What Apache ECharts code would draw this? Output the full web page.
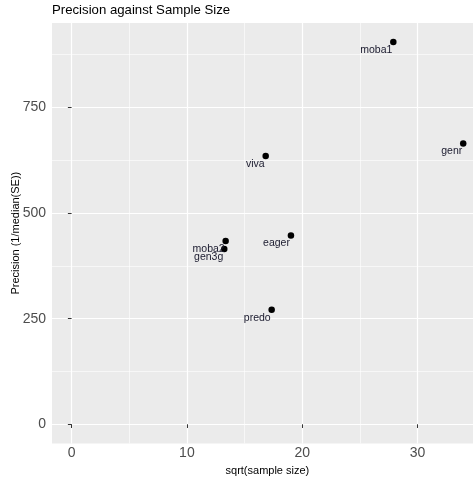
<!DOCTYPE html>
<html>
<head>
<meta charset="utf-8">
<script src="https://cdn.jsdelivr.net/npm/echarts@6/dist/echarts.min.js"></script>
<style>
  html, body { margin: 0; padding: 0; background: #ffffff; }
  #chart { width: 473px; height: 486px; }
</style>
</head>
<body>
<div id="chart"></div>
<script>
// Study cohorts: square root of sample size vs precision (1 / median SE)
const studies = ['moba1', 'genr', 'viva', 'eager', 'moba2', 'gen3g', 'predo'];
const sqrtSampleSize = [27.9, 33.96, 16.83, 19.02, 13.36, 13.24, 17.35];
const precision = [905, 665, 635, 447, 434, 415, 271];

const xTicks = [0, 10, 20, 30];
const yTicks = [0, 250, 500, 750];

// ggplot-like limits: include zero, then pad 5% on each side
function paddedRange(values) {
  const lo = Math.min(0, ...values);
  const hi = Math.max(0, ...values);
  const pad = (hi - lo) * 0.05;
  return [lo - pad, hi + pad];
}
const xRange = paddedRange(sqrtSampleSize);
const yRange = paddedRange(precision);

const FONT = 'Liberation Sans, Arial, Helvetica, sans-serif';

const points = studies.map((s, i) => ({ name: s, value: [sqrtSampleSize[i], precision[i]] }));

const chart = echarts.init(document.getElementById('chart'), null, { renderer: 'canvas' });

function axisCommon(ticks, range) {
  const step = ticks[1] - ticks[0];
  return {
    type: 'value',
    min: range[0],
    max: range[1],
    minInterval: step,
    maxInterval: step,
    axisLine: { show: false },
    axisTick: {
      show: true,
      length: 3.7,
      customValues: ticks,
      lineStyle: { color: '#333333', width: 1 }
    },
    axisLabel: {
      customValues: ticks,
      color: '#4D4D4D',
      fontSize: 14,
      fontFamily: FONT
    },
    splitLine: { show: true, lineStyle: { color: '#ffffff', width: 1.2 } },
    minorSplitLine: { show: true, lineStyle: { color: '#ffffff', width: 0.6 } },
    minorTick: { show: false, splitNumber: 2 },
    nameLocation: 'middle',
    nameMoveOverlap: false,
    nameTextStyle: { color: '#000000', fontSize: 11, fontFamily: FONT }
  };
}

const xAxis = axisCommon(xTicks, xRange);
xAxis.name = 'sqrt(sample size)';
xAxis.nameGap = 22;
xAxis.axisLabel.margin = 3;

const yAxis = axisCommon(yTicks, yRange);
yAxis.name = 'Precision (1/median(SE))';
yAxis.nameGap = 31;
yAxis.nameRotate = 90;
yAxis.axisLabel.margin = 6;

chart.setOption({
  animation: false,
  backgroundColor: '#ffffff',
  title: {
    text: 'Precision against Sample Size',
    left: 52,
    top: 4,
    padding: 0,
    textStyle: { color: '#000000', fontSize: 13.2, fontWeight: 'normal', fontFamily: FONT }
  },
  grid: {
    left: 52,
    right: -9.8,
    top: 22.9,
    bottom: 42.6,
    containLabel: false,
    outerBoundsMode: 'none',
    show: true,
    backgroundColor: '#EBEBEB',
    borderWidth: 0
  },
  xAxis: xAxis,
  yAxis: yAxis,
  series: [{
    type: 'scatter',
    data: points,
    symbol: 'circle',
    symbolSize: 6.5,
    itemStyle: { color: '#000000', opacity: 1 },
    label: {
      show: true,
      formatter: p => p.name,
      position: 'inside',
      align: 'right',
      verticalAlign: 'top',
      offset: [-1, 2.5],
      color: '#1a1a2e',
      fontSize: 10.5,
      fontFamily: FONT
    }
  }]
});
</script>
</body>
</html>
